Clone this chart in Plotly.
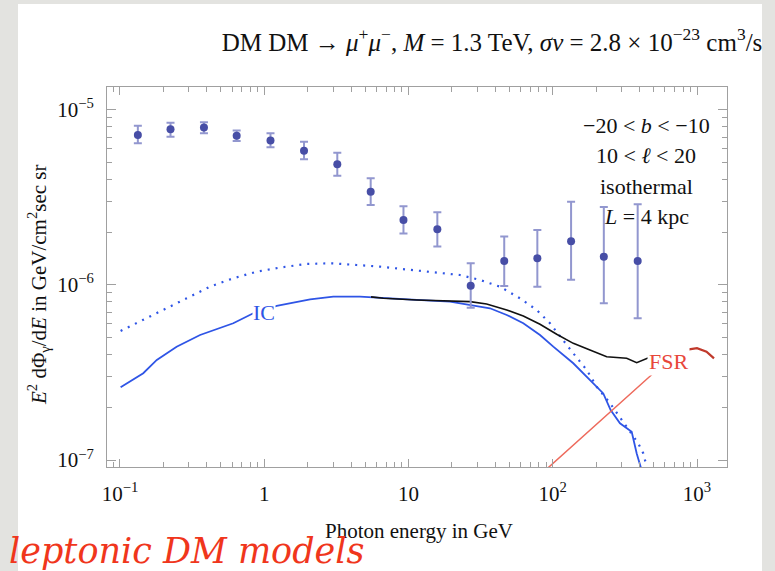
import plotly.graph_objects as go

# ---------------- data ----------------
# Fermi-like data points
data_E = [0.133, 0.224, 0.382, 0.644, 1.105, 1.887, 3.21, 5.47, 9.23, 15.85,
          27.0, 46.1, 78.2, 134, 226, 388]
data_flux = [7.20e-6, 7.76e-6, 7.93e-6, 7.13e-6, 6.68e-6, 5.85e-6, 4.90e-6, 3.41e-6,
             2.35e-6, 2.08e-6, 9.91e-7, 1.37e-6, 1.42e-6, 1.78e-6, 1.45e-6, 1.37e-6]
data_hi = [8.13e-6, 8.45e-6, 8.51e-6, 7.62e-6, 7.36e-6, 6.59e-6, 5.70e-6, 4.07e-6,
           2.82e-6, 2.60e-6, 1.33e-6, 1.89e-6, 2.06e-6, 2.99e-6, 2.79e-6, 2.89e-6]
data_lo = [6.46e-6, 7.03e-6, 7.36e-6, 6.65e-6, 6.12e-6, 5.22e-6, 4.20e-6, 2.86e-6,
           1.97e-6, 1.66e-6, 7.41e-7, 9.87e-7, 9.78e-7, 1.07e-6, 7.86e-7, 6.45e-7]

# IC (solid blue)
ic_E = [0.101, 0.145, 0.180, 0.247, 0.359, 0.610, 0.840, 1.22, 2.08, 3.01, 4.61, 6.69,
        11.4, 19.4, 26.7, 36.7, 48.0, 62.5, 81.6, 100.9, 138.8, 181.2, 224, 252, 292.5,
        352.6, 382, 409]
ic_flux = [2.60e-7, 3.13e-7, 3.73e-7, 4.44e-7, 5.18e-7, 6.04e-7, 6.89e-7, 7.59e-7, 8.28e-7,
           8.57e-7, 8.57e-7, 8.39e-7, 8.21e-7, 8.03e-7, 7.69e-7, 7.36e-7, 6.74e-7, 6.04e-7,
           5.18e-7, 4.44e-7, 3.57e-7, 2.86e-7, 2.40e-7, 1.93e-7, 1.62e-7, 1.45e-7, 1.09e-7,
           9.0e-8]

# IC, alternative (dotted blue)
icalt_E = [0.101, 0.145, 0.211, 0.290, 0.421, 0.610, 0.887, 1.32, 1.97, 2.94, 4.37, 6.35,
           9.46, 14.1, 22.7, 31.3, 43.1, 59.3, 77.4, 95.7, 112.3, 138.8, 171.9, 201.7,
           249.5, 325.5, 391.7, 424.4, 448]
icalt_flux = [5.46e-7, 6.31e-7, 7.36e-7, 8.39e-7, 9.78e-7, 1.092e-6, 1.191e-6, 1.262e-6,
              1.318e-6, 1.33e-6, 1.30e-6, 1.273e-6, 1.229e-6, 1.191e-6, 1.14e-6, 1.068e-6,
              9.78e-7, 8.39e-7, 7.20e-7, 6.04e-7, 5.07e-7, 4.07e-7, 3.27e-7, 2.62e-7,
              2.11e-7, 1.55e-7, 1.245e-7, 1.09e-7, 9.16e-8]

# total (black)
tot_E = [5.5, 6.69, 11.4, 16.5, 26.7, 34.8, 48.0, 62.5, 81.6, 106.5, 138.8, 181.2,
         236.6, 325.5, 382, 457, 500]
tot_flux = [8.55e-7, 8.39e-7, 8.21e-7, 8.10e-7, 8.03e-7, 7.78e-7, 7.20e-7, 6.65e-7,
            5.96e-7, 5.23e-7, 4.64e-7, 4.25e-7, 3.89e-7, 3.81e-7, 3.60e-7, 3.83e-7, 3.85e-7]

# FSR (red)
fsr_E = [90.8, 498, 671, 883, 1000, 1164, 1312]
fsr_flux = [8.88e-8, 3.13e-7, 3.73e-7, 4.29e-7, 4.35e-7, 4.16e-7, 3.81e-7]

x_major = [0.1, 1, 10, 100, 1000]
x_major_text = ["10<sup>\u22121</sup>", "1", "10", "10<sup>2</sup>", "10<sup>3</sup>"]
y_major = [1e-7, 1e-6, 1e-5]
y_major_text = ["10<sup>\u22127</sup>", "10<sup>\u22126</sup>", "10<sup>\u22125</sup>"]

info_lines = ["\u221220 &lt; <i>b</i> &lt; \u221210", "10 &lt; <i>\u2113</i> &lt; 20",
              "isothermal", "<i>L</i> = 4 kpc"]

# ---------------- styling ----------------
SERIF = "Liberation Serif, Times New Roman, serif"
BLUE = "#2f55e6"
PT = "#474ea6"
ERR = "#9297cf"
AXC = "#a0a0a0"

x_minor = [k * 10.0 ** d for d in range(-2, 4) for k in range(2, 10)]
y_minor = [k * 10.0 ** d for d in range(-8, -4) for k in range(2, 10)]

fig = go.Figure()

fig.add_trace(go.Scatter(x=icalt_E, y=icalt_flux, mode="lines",
                         line=dict(color=BLUE, width=2.2, dash="2px,6px"), hoverinfo="skip"))
fig.add_trace(go.Scatter(x=ic_E, y=ic_flux, mode="lines",
                         line=dict(color=BLUE, width=1.8), hoverinfo="skip"))
fig.add_trace(go.Scatter(x=tot_E, y=tot_flux, mode="lines",
                         line=dict(color="#111111", width=1.6), hoverinfo="skip"))
fig.add_trace(go.Scatter(x=fsr_E[:3], y=fsr_flux[:3], mode="lines",
                         line=dict(color="#ee6a5c", width=1.5), hoverinfo="skip"))
fig.add_trace(go.Scatter(x=fsr_E[2:], y=fsr_flux[2:], mode="lines",
                         line=dict(color="#c0392b", width=2.2), hoverinfo="skip"))

err_plus = [h - v for h, v in zip(data_hi, data_flux)]
err_minus = [v - l for v, l in zip(data_flux, data_lo)]
fig.add_trace(go.Scatter(x=data_E, y=data_flux, mode="markers",
                         marker=dict(color=PT, size=8),
                         error_y=dict(type="data", array=err_plus, arrayminus=err_minus,
                                      color=ERR, thickness=2, width=4),
                         hoverinfo="skip"))

xr = [-1.090, 3.208]
yr = [-7.04, -4.869]

common = dict(showgrid=False, zeroline=False, showline=True, linecolor=AXC, linewidth=1,
              mirror="ticks", ticks="inside", tickcolor=AXC, tickwidth=1,
              tickfont=dict(family=SERIF, size=21, color="#111111"))

fig.update_xaxes(type="log", range=xr, tickmode="array", tickvals=x_major,
                 ticktext=x_major_text, ticklen=8,
                 minor=dict(ticks="inside", tickvals=x_minor, ticklen=5, tickcolor=AXC,
                            tickwidth=1, showgrid=False),
                 ticklabelstandoff=8, **common)
fig.update_yaxes(type="log", range=yr, tickmode="array", tickvals=y_major,
                 ticktext=y_major_text, ticklen=9,
                 minor=dict(ticks="inside", tickvals=y_minor, ticklen=5, tickcolor=AXC,
                            tickwidth=1, showgrid=False),
                 ticklabelstandoff=8, **common)

L, R, T, B = 107, 48, 87, 104
W, H = 775, 571
pw, ph = W - L - R, H - T - B


def px(xp):
    return (xp - L) / pw


def py(yp):
    return (H - B - yp) / ph


ann = []
# curve labels
ann.append(dict(x=0.0, y=-6.16, xref="x", yref="y", text="IC", showarrow=False,
                font=dict(family=SERIF, size=22, color=BLUE), bgcolor="white", borderpad=0))
ann.append(dict(x=2.8024, y=-6.44, xref="x", yref="y", text="FSR", showarrow=False,
                font=dict(family=SERIF, size=22, color="#e8473a"), bgcolor="white", borderpad=1))
# info block
for i, t in enumerate(info_lines):
    ann.append(dict(x=px(646), y=py(125 + 30.6 * i), xref="paper", yref="paper", text=t,
                    showarrow=False, xanchor="center", yanchor="middle",
                    font=dict(family=SERIF, size=22, color="#111111")))
# axis titles
ann.append(dict(x=px(419), y=py(531), xref="paper", yref="paper", showarrow=False,
                text="Photon energy in GeV", xanchor="center", yanchor="middle",
                font=dict(family=SERIF, size=21, color="#111111")))
ann.append(dict(x=px(38), y=py(285), xref="paper", yref="paper", showarrow=False,
                text="<i>E</i><sup>2</sup> d\u03a6<sub>\u03b3</sub>/d<i>E</i> in GeV/cm<sup>2</sup>sec sr",
                textangle=-90, xanchor="center", yanchor="middle",
                font=dict(family=SERIF, size=21, color="#111111")))
# slide caption
ann.append(dict(x=px(7), y=py(551), xref="paper", yref="paper", showarrow=False,
                text="<i>leptonic DM models</i>", xanchor="left", yanchor="middle",
                font=dict(family="DejaVu Serif, serif", size=35, color="#f0361c")))

fig.update_layout(
    width=W, height=H, margin=dict(l=L, r=R, t=T, b=B, pad=0),
    paper_bgcolor="#e3e3e0", plot_bgcolor="white", showlegend=False,
    title=dict(text="DM DM \u2192 <i>\u03bc</i><sup>+</sup><i>\u03bc</i><sup>\u2212</sup>, "
                    "<i>M</i> = 1.3 TeV, <i>\u03c3v</i> = 2.8 \u00d7 10<sup>\u221223</sup> cm<sup>3</sup>/s",
               x=492 / W, y=1 - 42 / H, xref="container", yref="container",
               xanchor="center", yanchor="middle",
               font=dict(family=SERIF, size=25, color="#111111")),
    annotations=ann,
    shapes=[dict(type="rect", xref="paper", yref="paper", layer="below",
                 x0=px(18), x1=px(762), y0=py(571), y1=py(4),
                 fillcolor="white", line=dict(width=0))],
)

fig.write_html("out.html")
